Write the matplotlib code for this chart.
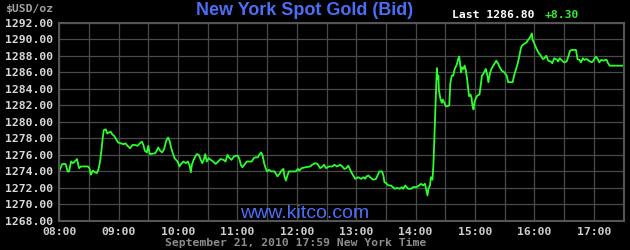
import matplotlib.pyplot as plt

# minutes after 08:00 New York time, and bid price in USD/oz
minutes = [0, 3, 6.5, 8.5, 10, 12, 14, 16.5, 18, 20, 22, 29, 30.5, 32, 34, 36, 38, 39.5, 41, 43,
           44, 45, 47, 48.5, 50, 52, 53.5, 55.5, 58, 59.5, 62, 65, 67, 69, 71.5, 74, 76.5, 79, 81.5, 83.5,
           85, 86.5, 88.5, 90, 91.5, 97, 98.5, 100, 102, 104, 106, 108, 110, 111.5, 113, 114.5, 116.5, 118, 119.5, 121.5,
           123, 125.5, 128, 130, 131.5, 133, 134, 135.5, 137, 139, 141, 143, 144.5, 146, 147.5, 149, 151, 153, 155.5, 158,
           160.5, 163, 166, 168, 170, 171.5, 174, 176.5, 178.5, 180.5, 182, 183.5, 185, 187, 189.5, 192, 194.5, 196.5, 198, 200.5,
           202, 204, 205.5, 207, 208.5, 210, 212, 214, 217.5, 219, 220.5, 222.5, 224.5, 226.5, 227.5, 229, 230.5, 232, 239, 241,
           242.5, 245, 248.5, 253.5, 255.5, 258.5, 261, 263.5, 265, 267.5, 269.5, 272.5, 276, 278, 280.5, 284, 286, 288, 290, 292,
           294, 295.5, 297.5, 299, 302, 305, 307.5, 309, 310.5, 312.5, 314, 317, 320, 321.5, 323.5, 326, 327.5, 328.5, 330, 332.5,
           335, 337, 339, 341.5, 344, 346, 347.5, 349.5, 351, 352.5, 355.5, 357.5, 361, 363.5, 365.5, 367.5, 369.5, 370.5, 372, 373,
           374.5, 375.5, 377, 378, 379, 380, 381, 381.5, 382, 383, 383.5, 385, 386.5, 387.5, 389, 390.5, 392.5, 394, 395, 396.5,
           398, 399.5, 401.5, 403, 404, 405, 406, 407, 408.5, 409.5, 410.5, 412, 413, 414, 415.5, 416.5, 417.5, 418.5, 419.5, 421,
           422.5, 424.5, 426, 427, 428.5, 430, 431, 432.5, 433.5, 435, 436.5, 438.5, 440, 441.5, 443.5, 445, 447, 449.5, 452, 453.5,
           456, 458, 459.5, 461.5, 463, 464.5, 466.5, 468, 470.5, 472, 473.5, 475.5, 477.5, 478, 479.5, 481.5, 484, 486.5, 488.5, 490,
           492, 494, 496.5, 498, 500, 503, 504, 505.5, 508, 510, 512.5, 514, 516, 517.5, 522, 523.5, 525.5, 527, 529, 530.5,
           533, 535, 538, 539.5, 542, 544, 545.5, 547.5, 549.5, 551.5, 553, 554, 556, 569.5]
prices = [1274.0, 1274.9, 1274.9, 1274.0, 1274.0, 1275.2, 1275.0, 1275.3, 1275.5, 1274.4, 1274.6, 1274.6, 1274.4, 1273.6, 1274.1, 1273.9, 1273.8, 1274.2, 1275.0, 1276.9,
          1278.1, 1279.0, 1279.1, 1278.6, 1278.7, 1278.8, 1278.5, 1278.3, 1277.8, 1277.5, 1277.4, 1277.3, 1277.4, 1277.1, 1276.8, 1277.2, 1277.2, 1277.1, 1277.4, 1277.6,
          1277.2, 1276.5, 1276.3, 1277.1, 1276.1, 1276.2, 1276.5, 1276.9, 1276.5, 1276.3, 1276.7, 1277.7, 1278.1, 1277.7, 1276.9, 1276.3, 1275.6, 1275.4, 1275.2, 1274.6,
          1274.9, 1275.2, 1275.0, 1275.2, 1274.8, 1273.9, 1274.8, 1275.3, 1275.7, 1276.1, 1276.0, 1275.4, 1275.0, 1275.4, 1276.1, 1275.2, 1275.6, 1275.4, 1275.2, 1274.9,
          1275.2, 1275.5, 1275.4, 1275.2, 1276.0, 1275.7, 1275.4, 1275.8, 1275.9, 1275.9, 1275.5, 1274.8, 1274.5, 1274.8, 1275.2, 1275.2, 1275.2, 1275.6, 1275.7, 1275.7,
          1276.0, 1276.3, 1275.9, 1275.0, 1274.4, 1274.0, 1274.2, 1274.0, 1274.0, 1273.7, 1273.4, 1273.7, 1274.1, 1274.3, 1273.4, 1272.9, 1273.5, 1274.0, 1274.0, 1274.3,
          1274.1, 1274.4, 1274.5, 1274.6, 1274.8, 1275.0, 1274.9, 1274.4, 1274.5, 1274.8, 1274.4, 1274.6, 1274.6, 1274.8, 1274.6, 1274.8, 1274.6, 1274.3, 1274.4, 1274.7,
          1274.2, 1273.8, 1273.4, 1273.1, 1273.3, 1273.1, 1273.3, 1273.1, 1273.4, 1273.5, 1273.3, 1273.0, 1273.1, 1273.5, 1274.0, 1274.0, 1273.5, 1272.7, 1272.6, 1272.3,
          1272.3, 1272.1, 1271.9, 1272.0, 1271.9, 1272.1, 1271.9, 1272.3, 1272.1, 1271.9, 1271.9, 1272.1, 1272.1, 1272.3, 1272.5, 1272.3, 1272.5, 1271.9, 1271.1, 1271.9,
          1272.3, 1273.3, 1273.0, 1274.8, 1278.3, 1281.7, 1285.0, 1286.5, 1285.2, 1285.6, 1283.9, 1282.8, 1282.3, 1282.7, 1282.3, 1281.9, 1281.9, 1282.0, 1284.6, 1285.6,
          1285.6, 1286.4, 1286.9, 1287.6, 1287.9, 1287.0, 1286.0, 1286.6, 1286.4, 1286.8, 1286.4, 1285.2, 1284.2, 1283.1, 1283.3, 1282.9, 1281.9, 1281.5, 1282.4, 1282.9,
          1283.2, 1283.3, 1284.6, 1285.6, 1285.8, 1286.2, 1286.4, 1285.6, 1284.8, 1285.8, 1286.4, 1286.8, 1287.1, 1287.4, 1287.0, 1286.6, 1286.2, 1286.0, 1285.6, 1284.8,
          1284.8, 1284.8, 1285.6, 1286.4, 1287.0, 1287.8, 1289.0, 1289.3, 1289.5, 1289.6, 1289.9, 1290.2, 1290.7, 1290.0, 1289.6, 1289.0, 1288.4, 1288.0, 1287.6, 1287.7,
          1288.0, 1287.4, 1287.3, 1287.1, 1287.7, 1287.5, 1287.3, 1287.7, 1287.4, 1287.2, 1287.3, 1287.8, 1288.6, 1288.7, 1288.7, 1287.6, 1287.5, 1287.2, 1287.7, 1287.5,
          1287.6, 1287.4, 1287.2, 1287.4, 1287.9, 1287.6, 1287.2, 1287.5, 1287.4, 1287.5, 1287.5, 1287.2, 1286.8, 1286.8]

hour_labels = ["08:00", "09:00", "10:00", "11:00", "12:00", "13:00", "14:00", "15:00", "16:00", "17:00"]
price_ticks = list(range(1268, 1293, 2))

mono = "DejaVu Sans Mono"
fig = plt.figure(figsize=(6.3, 2.5), dpi=100, facecolor="black")
ax = fig.add_axes([59.2 / 630, 29 / 250, 564.3 / 630, 198.3 / 250])
ax.set_facecolor("black")

ax.plot(minutes, prices, color="#2bff2b", lw=1.3)

ax.set_xlim(0, 570)
ax.set_ylim(1268, 1292)
ax.set_xticks([60 * i for i in range(len(hour_labels))])
ax.set_xticks(range(30, 570, 60), minor=True)
ax.set_xticklabels(hour_labels, family=mono, weight="bold", fontsize=8.2, color="#cfcfcf")
ax.set_yticks(price_ticks)
ax.set_yticklabels([f"{p:.2f}" for p in price_ticks], family=mono, weight="bold",
                   fontsize=8.2, color="#d8d8d8")
ax.tick_params(axis="both", which="both", length=0)
ax.tick_params(axis="y", pad=4.3)
ax.tick_params(axis="x", pad=4.0)
ax.grid(True, which="both", color="#4a4a4a", lw=0.9)
for s in ax.spines.values():
    s.set_color("#555555")
    s.set_linewidth(1.5)

fig.text(5 / 630, 1 - 9 / 250, "$USD/oz", family=mono, weight="bold", fontsize=8.2,
         color="#a0a0a0", ha="left", va="center")
fig.text(304.5 / 630, 1 - 10.7 / 250, "New York Spot Gold (Bid)", family="Liberation Sans",
         weight="bold", fontsize=13, color="#4c6ef5", ha="center", va="center")
fig.text(451.7 / 630, 1 - 15 / 250, "Last 1286.80", family=mono, weight="bold", fontsize=8.2,
         color="white", ha="left", va="center")
fig.text(545 / 630, 1 - 15 / 250, "+8.30", family=mono, weight="bold", fontsize=8.2,
         color="#33ee33", ha="left", va="center")
fig.text(304.5 / 630, 1 - 213.3 / 250, "www.kitco.com", family="Liberation Sans",
         fontsize=14, color="#4c6ef5", ha="center", va="center")
fig.text(295.7 / 630, 1 - 242.7 / 250, "September 21, 2010 17:59 New York Time", family=mono,
         weight="bold", fontsize=8.2, color="#8c8c8c", ha="center", va="center")

fig.savefig("out.png", dpi=100, facecolor="black")
